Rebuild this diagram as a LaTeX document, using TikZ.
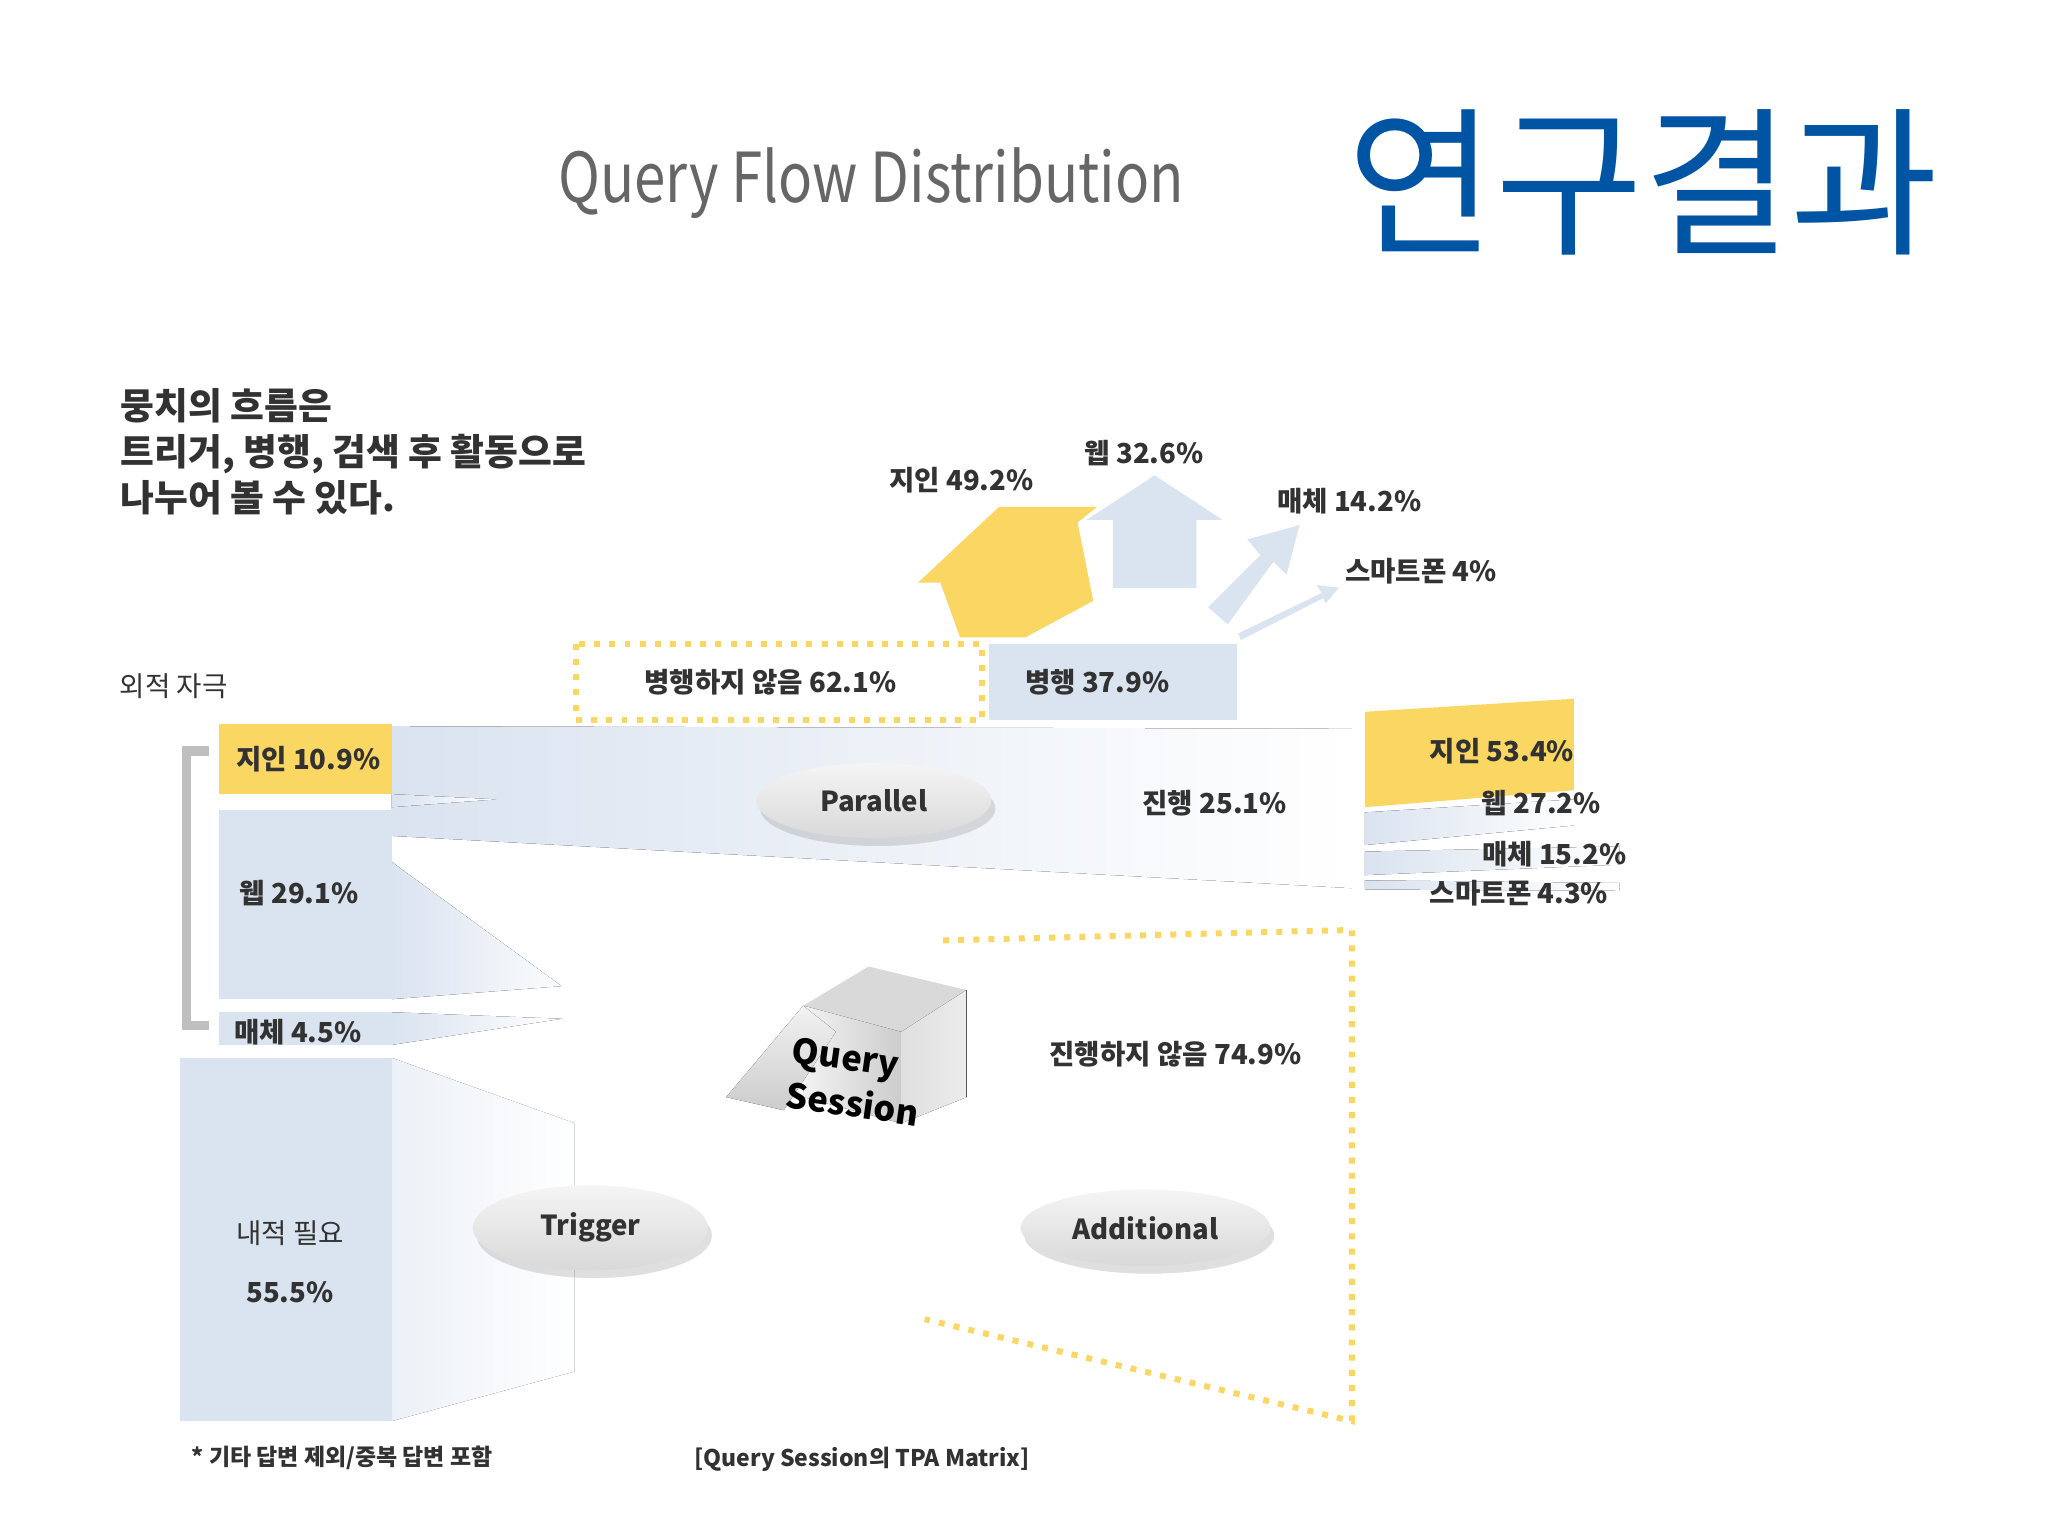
\documentclass[tikz,border=0pt]{standalone}
\usepackage{fontspec}
\setmainfont{Noto Sans CJK KR}
\usetikzlibrary{shadows,shapes.geometric}
\definecolor{yel}{RGB}{250,214,98}
\definecolor{lb}{RGB}{218,227,240}
\definecolor{ttl}{RGB}{0,84,164}
\definecolor{dk}{RGB}{50,50,50}
\tikzset{
 lab/.style={font=\fontsize{6pt}{7pt}\selectfont\bfseries, text=dk},
 pill/.style={ellipse, minimum width=1.8cm, minimum height=0.55cm, top color=gray!8, bottom color=gray!30, drop shadow={opacity=0.25, shadow xshift=0.3mm, shadow yshift=-0.6mm}, font=\fontsize{6pt}{7pt}\selectfont\bfseries, text=dk},
 dots/.style={draw=yel, line width=1.3pt, dotted},
 fan/.style={left color=lb, right color=white, draw=none}
}
\begin{document}
\begin{tikzpicture}[x=0.01cm,y=-0.01cm]
\useasboundingbox[fill=white] (0,0) rectangle (1568,1176);
\node[text=gray!80!black, font=\fontsize{15pt}{16pt}\selectfont, xscale=0.82] (t) at (667,140) {Query Flow Distribution};
\node[text=ttl, font=\fontsize{35pt}{36pt}\selectfont] (t2) at (1258,140) {연구결과};
\node[anchor=west, align=left, text=dk, font=\fontsize{8pt}{10pt}\selectfont\bfseries] (intro) at (80,346) {뭉치의 흐름은\\트리거, 병행, 검색 후 활동으로\\나누어 볼 수 있다.};
% fans
\fill[fan] (300,556) -- (1035,558) -- (1035,680) -- (300,640) -- cycle;
\fill[left color=lb, right color=white] (300,608) -- (380,612) -- (300,618) -- cycle;
\fill[left color=lb, right color=lb!10] (300,660) -- (430,755) -- (300,765) -- cycle;
\fill[left color=lb, right color=white] (300,775) -- (430,780) -- (300,800) -- cycle;
\fill[left color=lb, right color=white] (300,810) -- (440,860) -- (440,1050) -- (300,1088) -- cycle;
\fill[white, opacity=0.5] (300,810) -- (440,860) -- (440,1050) -- (300,1088) -- cycle;
% left boxes
\fill[yel] (168,554) rectangle (300,608);
\fill[lb] (168,620) rectangle (300,765);
\fill[lb] (168,775) rectangle (300,800);
\fill[lb] (138,810) rectangle (300,1088);
\draw[gray!50, line width=2pt] (160,575) -- (143,575) -- (143,785) -- (160,785);
\node[lab] (a1) at (236,581) {지인 10.9\%};
\node[lab] (a2) at (229,684) {웹 29.1\%};
\node[lab] (a3) at (228,790) {매체 4.5\%};
\node[lab, align=center] (a4) at (222,966) {{\mdseries 내적 필요}\\[6pt]55.5\%};
\node[lab, font=\fontsize{6pt}{7pt}\selectfont] (ex) at (133,525) {외적 자극};
% right bars
\fill[yel] (1045,545) -- (1205,535) -- (1205,605) -- (1045,618) -- cycle;
\fill[left color=lb, right color=white] (1045,622) -- (1205,612) -- (1205,632) -- (1045,647) -- cycle;
\fill[left color=lb, right color=white] (1045,652) -- (1240,648) -- (1240,662) -- (1045,670) -- cycle;
\fill[left color=lb, right color=white] (1045,674) -- (1240,676) -- (1240,682) -- (1045,681) -- cycle;
\node[lab] (r1) at (1150,575) {지인 53.4\%};
\node[lab] (r2) at (1180,615) {웹 27.2\%};
\node[lab] (r3) at (1190,654) {매체 15.2\%};
\node[lab] (r4) at (1163,684) {스마트폰 4.3\%};
% top boxes
\draw[dots] (441,493) rectangle (752,551);
\node[lab] (b1) at (590,522) {병행하지 않음 62.1\%};
\fill[lb] (757,493) rectangle (947,551);
\node[lab] (b2) at (840,522) {병행 37.9\%};
% arrows
\fill[yel] (735,488) -- (720,446) -- (703,446) -- (765,388) -- (840,388) -- (825,400) -- (837,460) -- (785,488) -- cycle;
\fill[lb] (852,450) -- (852,398) -- (832,398) -- (884,364) -- (936,398) -- (916,398) -- (916,450) -- cycle;
\fill[lb] (925,465) -- (965,425) -- (955,413) -- (995,402) -- (985,440) -- (975,430) -- (940,478) -- cycle;
\fill[lb] (948,485) -- (1012,454) -- (1008,448) -- (1025,450) -- (1015,462) -- (1013,458) -- (950,490) -- cycle;
\node[lab] (c1) at (736,368) {지인 49.2\%};
\node[lab] (c2) at (876,347) {웹 32.6\%};
\node[lab] (c3) at (1033,384) {매체 14.2\%};
\node[lab] (c4) at (1088,437) {스마트폰 4\%};
% pills
\node[pill] (par) at (669,613) {Parallel};
\node[pill] (trg) at (452,940) {Trigger};
\node[pill] (add) at (877,940) {Additional};
\node[lab] (p1) at (930,615) {진행 25.1\%};
\node[lab] (p2) at (900,807) {진행하지 않음 74.9\%};
% dotted frame
\draw[dots] (722,720) -- (1035,712) -- (1035,1088) -- (708,1010);
% box
\fill[gray!30] (615,770) -- (665,740) -- (740,758) -- (690,790) -- cycle;
\fill[left color=gray!10, right color=gray!40] (615,770) -- (690,790) -- (690,860) -- (615,840) -- cycle;
\fill[left color=gray!25, right color=gray!15] (690,790) -- (740,758) -- (740,840) -- (690,860) -- cycle;
\fill[top color=gray!10, bottom color=gray!40] (615,770) -- (556,840) -- (600,850) -- (640,790) -- cycle;
\node[font=\fontsize{7.5pt}{10pt}\selectfont\bfseries, text=black, align=left, rotate=-8] (qs) at (655,828) {Query\\Session};
% footnotes
\node[lab, font=\fontsize{5pt}{6pt}\selectfont\bfseries] (f1) at (262,1116) {* 기타 답변 제외/중복 답변 포함};
\node[lab, font=\fontsize{5pt}{6pt}\selectfont\bfseries] (f2) at (660,1117) {[Query Session의 TPA Matrix]};
\end{tikzpicture}
\end{document}
